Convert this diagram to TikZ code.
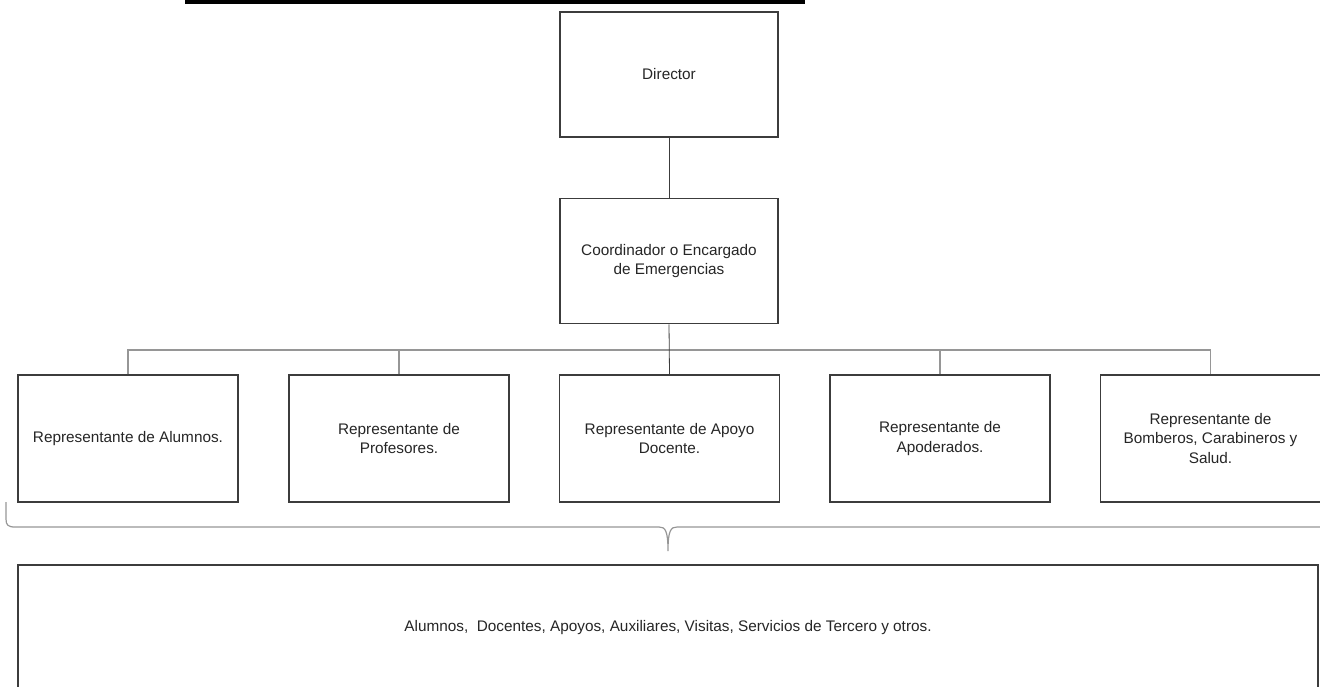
\documentclass[tikz,border=0pt]{standalone}
\usepackage{fontspec}
\setmainfont{Liberation Sans}
\definecolor{boxgray}{RGB}{60,60,60}
\definecolor{busgray}{RGB}{150,150,150}
\definecolor{txtgray}{RGB}{38,38,38}
\begin{document}
\begin{tikzpicture}[x=0.75pt,y=-0.75pt,
  box/.style={draw=boxgray, line width=1.2pt, fill=white, inner sep=0pt,
    align=center, text=txtgray, font=\fontsize{11.5}{14.3}\selectfont},
  topbox/.style={box, minimum width=163.5pt, minimum height=94pt},
  repbox/.style={box, minimum width=165pt, minimum height=95pt},
  busline/.style={draw=busgray, line width=0.8pt},
  darkline/.style={draw=boxgray, line width=0.6pt},
  bracepath/.style={draw=busgray, line width=0.9pt}]
\useasboundingbox (0,0) rectangle (1320,686);
% cut-off heading underline
\fill[black] (185,0) rectangle (805,4);
% top boxes
\node[topbox] (dir) at (669,74.5) {Director};
\node[topbox] (coord) at (669,261) {Coordinador o Encargado\\de Emergencias};
% representative boxes
\node[repbox] (r1) at (128,438.5) {Representante de Alumnos.};
\node[repbox] (r2) at (399,438.5) {Representante de\\Profesores.};
\node[repbox] (r3) at (669.5,438.5) {Representante de Apoyo\\Docente.};
\node[repbox] (r4) at (940,438.5) {Representante de\\Apoderados.};
\node[repbox] (r5) at (1210.5,438.5) {Representante de\\Bomberos, Carabineros y\\Salud.};
% bottom box
\node[box, minimum width=975pt, minimum height=94.5pt] (all) at (668,628)
  {Alumnos,\ \ Docentes, Apoyos, Auxiliares, Visitas, Servicios de Tercero y otros.};
% connectors
\coordinate (bus) at (669,350);
\draw[darkline] (dir.south) -- (coord.north);
\draw[busline] (r1.north) -- (r1.north |- bus) -- (r5.north |- bus) -- (r5.north);
\draw[busline] (r2.north) -- (r2.north |- bus);
\draw[busline] (r4.north) -- (r4.north |- bus);
\draw[darkline] (coord.south) -- (r3.north);
% brace
\coordinate (bl) at (6,502);
\coordinate (bt) at (668,551);
\coordinate (br) at (1322,527);
\draw[bracepath] (bl) -- (6,519) .. controls (6,525) and (8,527) .. (15,527)
  -- (659,527) .. controls (665,527) and (668,530) .. (bt)
  .. controls (668,530) and (671,527) .. (677,527) -- (br);
\end{tikzpicture}
\end{document}
